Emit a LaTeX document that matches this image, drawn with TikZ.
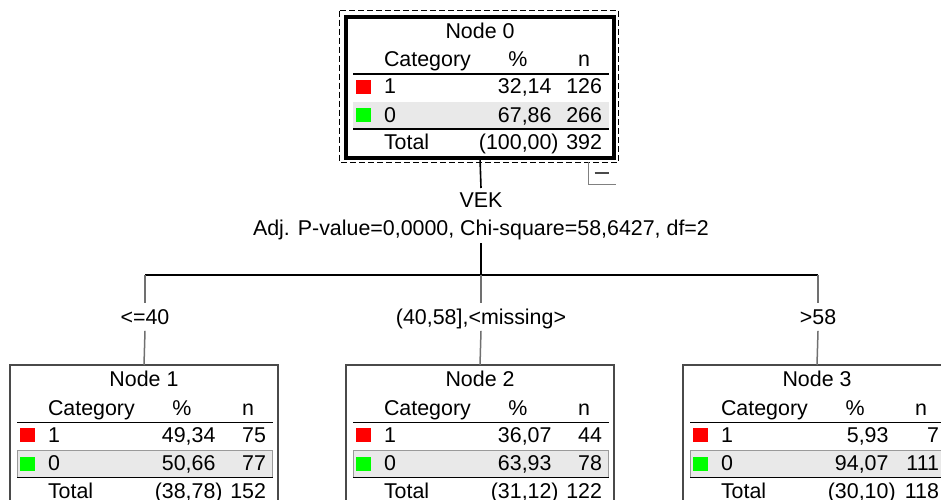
\documentclass[tikz,border=0pt]{standalone}
\usepackage{fontspec}
\setmainfont{Liberation Sans}
\definecolor{bandgray}{HTML}{E9E9E9}
\definecolor{bandedge}{HTML}{9A9A9A}
\definecolor{boxgray}{HTML}{4A4A4A}
\definecolor{branchgray}{HTML}{707070}
\definecolor{catred}{HTML}{FF0000}
\definecolor{catgreen}{HTML}{00FF00}
\tikzset{
  txt/.style={font=\fontsize{21.4}{25}\selectfont, inner sep=0pt, outer sep=0pt},
  lbl/.style={txt, text height=14.7pt, text depth=0pt, anchor=base},
  treebox/.style={draw=boxgray, line width=1.3pt, fill=white, inner sep=0pt,
    outer sep=0pt, anchor=north west, minimum width=268pt, minimum height=144pt},
  rootbox/.style={treebox, draw=black, line width=3.6pt, minimum height=141pt},
  rule/.style={draw=black, line width=1.3pt},
  band/.style={fill=bandgray, draw=bandedge, line width=0.8pt},
  trunk/.style={draw=black, line width=1.6pt},
  branch/.style={draw=branchgray, line width=1.5pt},
}
% contents of one tree node: name, title, % and n of category 1, of category 0, totals
\newcommand\tablebody[8]{%
  \node[txt, anchor=base] (#1-title) at (134,21.5) {#2};
  \node[txt, anchor=base west] (#1-hcat) at (38,50) {Category};
  \node[txt, anchor=base] (#1-hpct) at (172,50) {\%};
  \node[txt, anchor=base] (#1-hn) at (238,50) {n};
  \draw[rule] (7,57.5) -- (262.5,57.5);
  \fill[catred] (10,63.3) rectangle (25,77.3);
  \node[txt, anchor=base west] (#1-c1) at (38,77) {1};
  \node[txt, anchor=base east] (#1-p1) at (205.5,77) {#3};
  \node[txt, anchor=base east] (#1-n1) at (256,77) {#4};
  \path[band] (7,85.5) rectangle (262.5,112.5);
  \draw[rule] (7,112.5) -- (262.5,112.5);
  \fill[catgreen] (10,91.5) rectangle (25,105.5);
  \node[txt, anchor=base west] (#1-c0) at (38,105.5) {0};
  \node[txt, anchor=base east] (#1-p0) at (205.5,105.5) {#5};
  \node[txt, anchor=base east] (#1-n0) at (256,105.5) {#6};
  \node[txt, anchor=base west] (#1-ct) at (38,133) {Total};
  \node[txt, anchor=base east] (#1-pt) at (205.5,133) {(#7\rlap{)}};
  \node[txt, anchor=base east] (#1-nt) at (256,133) {#8};
}
\begin{document}
\begin{tikzpicture}[x=1pt, y=-1pt]
\useasboundingbox (0,0) rectangle (941,499);
\clip (0,0) rectangle (941,499);

% root node with selection frame and collapse button
\draw[black, line width=0.9pt, dash pattern=on 6pt off 3pt] (339.5,10.5) rectangle (618.5,162);
\node[rootbox] (n0) at (346,17) {};
\begin{scope}[shift={(346,16.5)}, band/.style={fill=bandgray}]
  \tablebody{n0}{Node 0}{32,14}{126}{67,86}{266}{100,00}{392}
\end{scope}
\draw[draw=gray, line width=1pt] (588,162) -- (588,184) -- (616,184);
\draw[draw=boxgray, line width=1.2pt] (594.5,173) -- (609,173);

% split of the root
\node[lbl, outer sep=4.6pt] (vek) at (481,207.3) {VEK};
\node[lbl, outer sep=7.7pt] (adj) at (481,235.3) {Adj. P-value=0,0000, Chi-square=58,6427, df=2};
\coordinate (split) at (481,275);
\coordinate (left) at (145,275);
\coordinate (right) at (818,275);
\draw[trunk] (n0.south) -- (vek.north);
\draw[trunk] (adj.south) -- (split);
\draw[trunk] (left) -- (right);

% branch labels
\node[lbl, outer sep=6.5pt] (b1) at (145,324.3) {<=40};
\node[lbl, outer sep=6.5pt] (b2) at (481,324.3) {(40,58],<missing>};
\node[lbl, outer sep=6.5pt] (b3) at (818,324.3) {>58};

% child nodes
\node[treebox] (n1) at (10,365) {};
\node[treebox] (n2) at (346,365) {};
\node[treebox] (n3) at (683,365) {};
\begin{scope}[shift={(10,365)}]
  \tablebody{n1}{Node 1}{49,34}{75}{50,66}{77}{38,78}{152}
\end{scope}
\begin{scope}[shift={(346,365)}]
  \tablebody{n2}{Node 2}{36,07}{44}{63,93}{78}{31,12}{122}
\end{scope}
\begin{scope}[shift={(683,365)}]
  \tablebody{n3}{Node 3}{5,93}{7}{94,07}{111}{30,10}{118}
\end{scope}

\draw[branch] (left) -- (b1.north);
\draw[branch] (b1.south) -- (n1.north);
\draw[branch] (split) -- (b2.north);
\draw[branch] (b2.south) -- (n2.north);
\draw[branch] (right) -- (b3.north);
\draw[branch] (b3.south) -- (n3.north);
\end{tikzpicture}
\end{document}
